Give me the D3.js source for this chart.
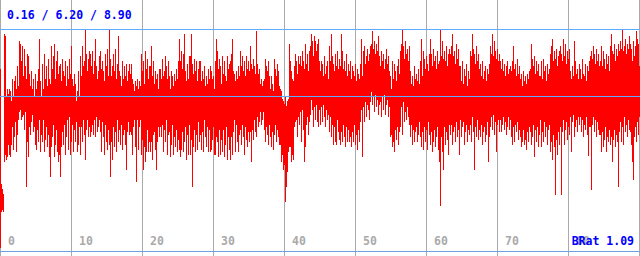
<!DOCTYPE html>
<html>
<head>
<meta charset="utf-8">
<script src="https://cdn.jsdelivr.net/npm/d3@7"></script>
<style>
  body { margin: 0; background: #fff; }
  svg { display: block; }
  text { font-family: "DejaVu Sans Mono", monospace; font-weight: bold; }
</style>
</head>
<body>
<script>
// per pixel column: highest and lowest sample
const highs = [
  7.3, 2.7, 2.5, 2.3, 8.7, 8.6, 6.2, 6.5, 6.3, 6.5,
  6.4, 6.0, 6.9, 6.2, 6.8, 7.0, 6.5, 7.4, 6.6, 8.4,
  8.3, 7.6, 8.2, 7.0, 8.1, 7.4, 6.9, 7.9, 7.8, 7.1,
  6.6, 7.2, 6.5, 6.9, 6.2, 7.1, 6.5, 6.8, 7.3, 8.5,
  6.8, 6.2, 7.5, 6.5, 7.9, 6.9, 7.4, 6.6, 7.7, 6.9,
  6.7, 8.2, 7.3, 7.8, 8.3, 6.9, 7.6, 8.0, 7.1, 7.4,
  7.5, 6.8, 7.7, 7.2, 7.0, 7.6, 6.6, 7.4, 6.9, 7.7,
  7.1, 8.2, 6.9, 6.6, 7.1, 6.7, 6.0, 6.4, 7.2, 6.2,
  7.8, 7.0, 8.2, 7.4, 7.6, 8.9, 7.9, 7.2, 7.7, 8.0,
  7.9, 7.4, 8.0, 7.1, 7.6, 8.5, 7.4, 6.9, 7.2, 7.8,
  8.0, 7.3, 7.6, 7.2, 6.8, 7.9, 7.4, 8.1, 7.0, 8.9,
  7.7, 7.0, 7.4, 7.9, 7.2, 8.1, 6.9, 7.5, 8.6, 7.2,
  7.0, 6.6, 7.6, 6.9, 7.4, 7.0, 7.5, 6.8, 7.2, 7.5,
  7.1, 7.5, 6.9, 6.7, 6.4, 6.8, 6.6, 6.9, 6.5, 6.8,
  6.6, 7.9, 7.2, 7.6, 6.7, 8.0, 7.3, 7.7, 6.9, 7.4,
  7.4, 8.2, 7.0, 7.6, 6.7, 7.2, 6.9, 7.1, 6.5, 7.3,
  7.3, 6.9, 7.7, 7.0, 7.2, 7.8, 7.4, 6.9, 7.6, 7.0,
  6.5, 7.2, 7.0, 6.6, 7.1, 6.8, 7.3, 6.9, 7.6, 8.5,
  7.6, 8.0, 7.3, 7.9, 8.7, 7.2, 6.8, 7.5, 6.9, 7.8,
  7.8, 8.7, 7.5, 7.1, 7.7, 7.2, 7.6, 6.8, 7.3, 7.6,
  7.6, 6.8, 7.2, 6.9, 7.4, 6.6, 7.0, 6.7, 7.3, 6.9,
  7.4, 7.2, 6.9, 7.0, 6.5, 7.6, 8.5, 8.0, 7.3, 7.7,
  7.4, 6.7, 7.8, 7.1, 7.6, 7.0, 6.8, 7.8, 7.3, 7.5,
  7.6, 7.9, 8.5, 7.2, 7.1, 6.8, 7.2, 6.9, 7.4, 7.0,
  8.0, 7.4, 7.8, 7.2, 7.6, 7.0, 7.8, 7.3, 7.6, 7.2,
  8.2, 7.5, 7.3, 7.7, 7.4, 7.1, 8.8, 7.5, 7.1, 7.3,
  6.7, 6.9, 6.6, 6.8, 6.9, 7.7, 7.4, 7.2, 7.6, 7.0,
  6.5, 7.0, 6.7, 6.4, 7.7, 7.3, 7.0, 7.5, 7.2, 6.6,
  6.5, 6.4, 6.1, 6.0, 5.9, 6.2, 5.8, 6.0, 6.1, 8.3,
  7.6, 7.2, 6.9, 6.8, 7.4, 7.9, 7.6, 7.1, 7.8, 7.5,
  7.8, 7.4, 8.0, 7.6, 7.3, 8.3, 7.5, 7.9, 7.2, 8.0,
  8.2, 8.7, 8.4, 7.8, 8.6, 8.4, 8.0, 8.3, 8.5, 7.6,
  7.2, 7.6, 7.5, 7.0, 7.8, 7.1, 7.4, 7.6, 6.9, 8.2,
  7.6, 8.7, 7.8, 7.5, 7.2, 7.9, 7.4, 8.0, 7.3, 7.7,
  7.4, 8.7, 8.0, 7.3, 7.6, 7.2, 7.9, 7.0, 7.5, 7.2,
  7.6, 6.9, 7.4, 7.2, 7.0, 7.5, 6.8, 7.3, 7.1, 6.9,
  7.5, 8.5, 7.0, 8.0, 8.2, 7.5, 7.8, 8.1, 7.6, 7.9,
  8.2, 8.3, 8.8, 8.1, 8.4, 7.9, 8.3, 8.0, 8.6, 7.8,
  7.4, 8.0, 7.6, 7.9, 7.3, 7.7, 8.1, 7.5, 7.8, 7.2,
  7.0, 6.5, 7.6, 6.9, 7.5, 7.2, 6.8, 7.4, 7.7, 7.1,
  8.0, 8.3, 8.9, 8.2, 7.7, 8.4, 7.9, 8.1, 7.6, 8.2,
  7.2, 6.7, 7.0, 6.6, 7.4, 6.9, 7.1, 6.8, 7.3, 6.7,
  7.6, 8.5, 7.0, 8.0, 7.7, 7.3, 7.8, 7.5, 7.2, 7.9,
  8.5, 7.9, 7.4, 8.1, 7.6, 7.8, 7.3, 8.0, 7.5, 7.6,
  8.9, 7.8, 8.4, 7.7, 8.0, 7.6, 8.2, 7.4, 7.9, 8.1,
  7.9, 8.2, 8.7, 7.8, 8.0, 7.5, 8.3, 7.7, 8.1, 7.4,
  7.4, 6.8, 7.6, 6.7, 7.3, 7.0, 7.5, 6.6, 7.2, 6.9,
  8.0, 7.8, 8.7, 8.1, 7.9, 7.5, 8.2, 7.6, 7.9, 7.3,
  7.5, 7.0, 7.6, 6.9, 7.2, 7.4, 6.8, 7.3, 7.1, 7.5,
  8.2, 7.9, 8.7, 7.8, 8.4, 8.0, 7.7, 8.1, 7.6, 7.9,
  7.6, 7.3, 7.7, 7.2, 7.5, 7.0, 7.4, 7.6, 7.1, 7.3,
  7.4, 7.2, 7.6, 8.2, 7.3, 7.5, 7.0, 7.7, 7.1, 7.4,
  6.9, 7.1, 6.6, 7.2, 6.8, 7.0, 6.7, 7.1, 6.9, 7.2,
  7.3, 8.3, 7.7, 7.4, 7.8, 7.1, 7.6, 7.2, 7.5, 7.0,
  7.0, 7.6, 6.9, 7.7, 7.2, 7.4, 6.8, 7.5, 7.1, 7.3,
  7.9, 8.2, 8.5, 7.6, 8.0, 7.7, 8.1, 7.4, 7.8, 8.0,
  8.2, 7.9, 7.6, 8.5, 7.8, 8.3, 7.5, 8.0, 7.7, 8.1,
  7.2, 6.9, 7.4, 7.0, 8.4, 7.6, 7.1, 7.3, 6.9, 7.5,
  7.3, 6.9, 7.7, 7.1, 7.0, 7.5, 6.8, 7.4, 7.2, 7.6,
  7.8, 8.0, 7.7, 8.2, 7.9, 7.5, 8.1, 7.6, 7.9, 7.4,
  7.6, 8.2, 7.4, 8.0, 7.7, 7.3, 7.9, 7.5, 7.8, 7.2,
  8.2, 8.7, 8.0, 7.9, 8.3, 7.6, 8.1, 7.8, 8.3, 8.0,
  8.4, 8.1, 8.9, 8.0, 8.2, 8.5, 7.9, 8.3, 8.1, 8.6,
  8.3, 8.1, 7.6, 8.4, 7.8, 8.2, 8.8, 8.5, 8.3, 7.4
];

const lows = [
  0.16, 1.6, 1.7, 1.6, 3.6, 3.9, 3.7, 3.8, 4.3, 3.9,
  3.8, 4.3, 5.0, 4.1, 4.6, 5.2, 4.0, 4.7, 5.3, 5.6,
  5.7, 5.3, 5.4, 5.5, 4.9, 5.6, 2.6, 4.4, 3.8, 5.0,
  4.7, 5.2, 5.5, 4.8, 5.0, 4.3, 4.1, 4.9, 4.4, 5.3,
  4.0, 4.7, 4.4, 5.3, 4.0, 4.5, 5.0, 4.2, 4.7, 3.8,
  3.0, 4.2, 4.6, 5.1, 3.8, 4.3, 4.9, 4.0, 3.6, 3.9,
  3.0, 4.2, 4.8, 4.3, 5.1, 3.9, 4.6, 5.3, 4.1, 5.4,
  3.9, 4.4, 5.1, 4.0, 4.9, 4.4, 5.2, 4.0, 4.3, 5.0,
  3.9, 5.0, 4.4, 5.3, 4.7, 3.7, 4.9, 5.3, 4.6, 5.0,
  4.6, 4.8, 5.1, 4.7, 5.3, 4.6, 5.4, 4.8, 5.0, 5.3,
  4.8, 4.0, 5.2, 4.6, 3.9, 5.1, 4.4, 4.1, 4.9, 4.3,
  3.0, 4.4, 3.7, 5.0, 4.2, 4.8, 4.0, 5.3, 4.4, 4.9,
  4.3, 5.1, 4.1, 4.7, 4.9, 4.3, 3.3, 4.8, 5.2, 4.7,
  4.8, 4.7, 3.9, 5.0, 5.3, 4.2, 2.8, 5.3, 4.1, 5.0,
  5.3, 3.9, 4.5, 3.3, 4.2, 3.6, 4.0, 4.9, 4.0, 4.4,
  4.0, 4.4, 3.7, 4.7, 4.8, 4.1, 3.3, 4.4, 5.0, 4.6,
  5.0, 4.6, 5.1, 4.0, 4.9, 4.4, 5.3, 3.9, 4.7, 4.8,
  3.8, 4.3, 5.1, 3.9, 4.6, 4.2, 4.9, 4.0, 4.5, 4.1,
  3.8, 4.1, 4.8, 4.0, 4.4, 5.0, 3.7, 4.7, 3.9, 5.1,
  3.9, 4.5, 2.6, 4.2, 4.9, 4.0, 4.7, 4.1, 5.2, 4.4,
  4.7, 4.1, 4.8, 4.0, 5.3, 4.6, 4.2, 5.0, 4.0, 4.9,
  4.0, 4.1, 4.5, 5.0, 3.9, 3.9, 4.6, 4.4, 3.8, 4.9,
  3.9, 4.5, 4.0, 4.9, 3.8, 4.3, 5.0, 3.7, 4.6, 4.1,
  3.7, 4.6, 3.9, 4.8, 5.3, 4.0, 5.1, 4.4, 4.0, 4.7,
  4.9, 4.3, 5.1, 4.6, 3.9, 5.0, 4.5, 4.2, 4.8, 4.4,
  4.8, 3.6, 4.9, 4.5, 5.3, 4.8, 4.6, 5.4, 5.0, 5.2,
  5.6, 5.1, 5.3, 5.6, 4.9, 4.4, 5.0, 4.7, 4.3, 5.1,
  4.6, 4.2, 4.8, 4.1, 4.7, 5.1, 4.4, 4.9, 4.6, 4.3,
  4.3, 3.6, 3.9, 3.3, 3.5, 2.0, 2.6, 3.2, 4.0, 4.2,
  4.2, 3.6, 3.9, 3.7, 5.0, 5.2, 5.3, 4.6, 5.4, 5.1,
  5.6, 4.4, 5.7, 4.9, 3.6, 4.2, 5.1, 5.4, 4.7, 5.2,
  5.5, 6.1, 5.7, 5.0, 5.8, 5.3, 5.9, 5.2, 5.0, 5.7,
  5.1, 5.8, 5.2, 5.9, 5.4, 5.0, 5.7, 5.3, 5.5, 4.8,
  5.4, 4.6, 5.1, 4.3, 5.0, 4.4, 4.3, 5.3, 4.8, 4.5,
  4.3, 4.8, 4.4, 5.1, 4.6, 4.2, 5.0, 4.4, 4.9, 4.4,
  4.6, 4.2, 4.8, 4.4, 5.1, 4.3, 4.7, 4.1, 4.9, 4.4,
  5.2, 5.7, 3.8, 5.8, 5.2, 6.0, 5.4, 5.9, 5.7, 5.3,
  6.0, 6.4, 5.9, 6.2, 5.6, 6.3, 5.8, 6.1, 5.5, 5.9,
  6.0, 5.4, 6.2, 5.7, 6.3, 5.5, 5.9, 6.1, 5.4, 5.8,
  4.6, 4.7, 4.2, 4.4, 4.0, 4.9, 4.5, 5.0, 4.3, 4.8,
  5.0, 5.8, 4.7, 6.0, 5.2, 5.6, 5.3, 5.8, 5.4, 5.1,
  4.6, 5.1, 4.3, 4.9, 4.4, 4.8, 5.0, 4.4, 4.7, 5.2,
  4.6, 4.2, 4.8, 4.1, 5.0, 4.4, 4.9, 4.1, 5.2, 4.7,
  4.3, 4.8, 4.0, 4.4, 4.9, 4.2, 4.6, 5.0, 4.1, 3.6,
  1.85, 4.6, 4.0, 3.3, 5.0, 4.3, 4.8, 4.5, 3.9, 5.1,
  4.7, 5.1, 4.3, 4.8, 5.0, 4.4, 5.2, 4.6, 4.9, 3.9,
  5.3, 4.6, 5.0, 5.2, 4.3, 4.8, 5.1, 4.4, 4.9, 4.7,
  5.1, 4.4, 5.4, 4.8, 3.3, 5.0, 4.6, 5.3, 4.5, 4.9,
  4.6, 5.1, 4.3, 4.8, 5.0, 4.4, 4.7, 5.2, 3.6, 4.6,
  5.0, 5.4, 4.9, 5.5, 4.7, 5.2, 4.0, 5.1, 5.3, 4.8,
  5.3, 4.8, 5.1, 5.4, 4.9, 5.2, 4.7, 5.0, 5.4, 4.9,
  5.3, 4.6, 4.3, 5.0, 4.4, 5.1, 4.8, 5.2, 4.5, 4.9,
  4.6, 4.2, 4.4, 4.9, 4.3, 4.5, 4.1, 4.8, 4.4, 5.0,
  4.8, 4.3, 4.6, 5.1, 3.8, 4.9, 4.4, 5.0, 4.2, 4.7,
  5.3, 4.2, 4.8, 4.4, 5.2, 4.6, 5.0, 4.3, 4.9, 5.1,
  4.0, 4.4, 3.7, 4.7, 4.2, 2.3, 4.5, 3.9, 4.8, 4.3,
  5.0, 2.3, 4.8, 5.3, 4.3, 4.9, 5.2, 4.5, 5.0, 4.7,
  5.4, 4.0, 5.2, 5.5, 4.6, 5.0, 5.3, 4.8, 5.4, 5.1,
  5.4, 4.8, 5.3, 4.6, 5.1, 4.9, 5.4, 4.7, 3.85, 5.0,
  5.0, 2.5, 5.1, 5.4, 4.8, 5.3, 4.6, 5.2, 4.9, 4.7,
  4.7, 4.0, 4.8, 4.2, 4.5, 5.0, 4.0, 4.6, 4.4, 4.9,
  4.3, 4.6, 3.6, 4.5, 4.9, 4.2, 4.7, 4.4, 2.6, 4.8,
  5.2, 4.4, 5.0, 4.3, 5.4, 4.8, 5.1, 4.6, 5.3, 4.9,
  4.8, 4.3, 3.6, 2.9, 4.6, 5.0, 4.4, 5.2, 4.7, 5.4
];

const xTicks = [0, 10, 20, 30, 40, 50, 60, 70, 80, 90];
const stats = { min: 0.16, avg: 6.20, max: 8.90 };
const ratioLabel = "BRat 1.09";
const xMax = 90;

const width = 640, height = 256;

const svg = d3.select("body")
    .append("svg")
    .attr("width", width)
    .attr("height", height);

svg.append("rect")
    .attr("width", width)
    .attr("height", height)
    .attr("fill", "#fff");

const x = d3.scaleLinear().domain([0, xMax]).range([0, 639]);
const y = d3.scaleLinear().domain([0, stats.max]).range([251.5, 28.5]);

// vertical grid
svg.selectAll(".vgrid")
    .data(xTicks)
    .enter().append("line")
    .attr("x1", d => Math.round(x(d)) + 0.5)
    .attr("x2", d => Math.round(x(d)) + 0.5)
    .attr("y1", 0)
    .attr("y2", height)
    .attr("stroke", "#aaaaaa")
    .attr("stroke-width", 1);

// one range bar per pixel column
const step = xMax / (highs.length - 1);
const cols = highs.map((h, i) => ({ t: i * step, hi: h, lo: lows[i] }));

svg.append("g")
    .attr("shape-rendering", "crispEdges")
    .selectAll("rect")
    .data(cols)
    .enter().append("rect")
    .attr("x", d => Math.round(x(d.t)))
    .attr("width", 1)
    .attr("y", d => Math.round(y(d.hi)))
    .attr("height", d => Math.round(y(d.lo)) - Math.round(y(d.hi)) + 1)
    .attr("fill", "#ff0000");

// max and average lines
svg.selectAll(".hline")
    .data([stats.max, stats.avg])
    .enter().append("line")
    .attr("x1", 0)
    .attr("x2", width)
    .attr("y1", d => Math.round(y(d)) + 0.5)
    .attr("y2", d => Math.round(y(d)) + 0.5)
    .attr("stroke", "#5eaaff")
    .attr("stroke-width", 1);

// baseline
svg.append("line")
    .attr("x1", 0)
    .attr("x2", width)
    .attr("y1", Math.floor(y(0)) + 0.5)
    .attr("y2", Math.floor(y(0)) + 0.5)
    .attr("stroke", "#70a0e0")
    .attr("stroke-width", 1);

// x tick labels
svg.selectAll(".xlabel")
    .data(xTicks.slice(0, -1))
    .enter().append("text")
    .attr("x", d => Math.round(x(d)) + 8)
    .attr("y", 245)
    .attr("font-size", 11.5)
    .attr("fill", "#aaaaaa")
    .text(d => d);

// title with min / avg / max
svg.append("text")
    .attr("x", 7)
    .attr("y", 19)
    .attr("font-size", 11.5)
    .attr("fill", "#0000ff")
    .text(`${stats.min.toFixed(2)} / ${stats.avg.toFixed(2)} / ${stats.max.toFixed(2)}`);

svg.append("text")
    .attr("x", 634)
    .attr("y", 245)
    .attr("text-anchor", "end")
    .attr("font-size", 11.5)
    .attr("fill", "#0000ff")
    .text(ratioLabel);
</script>
</body>
</html>
